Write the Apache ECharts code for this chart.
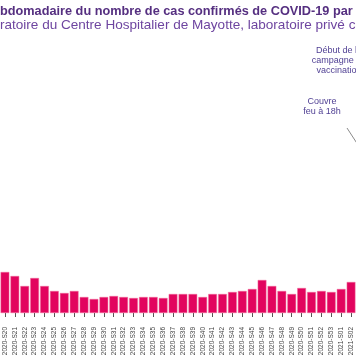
<!DOCTYPE html>
<html><head><meta charset="utf-8">
<script src="https://cdn.jsdelivr.net/npm/echarts@6/dist/echarts.min.js"></script>
<style>html,body{margin:0;padding:0;background:#fff}#c{width:356px;height:364px}</style>
</head><body><div id="c"></div>
<script>
const weeks = ["2020-S20","2020-S21","2020-S22","2020-S23","2020-S24","2020-S25","2020-S26","2020-S27","2020-S28","2020-S29","2020-S30","2020-S31","2020-S32","2020-S33","2020-S34","2020-S35","2020-S36","2020-S37","2020-S38","2020-S39","2020-S40","2020-S41","2020-S42","2020-S43","2020-S44","2020-S45","2020-S46","2020-S47","2020-S48","2020-S49","2020-S50","2020-S51","2020-S52","2020-S53","2021-S01","2021-S02"];
const cases = [410,370,270,350,270,220,200,220,160,140,160,170,160,150,160,160,150,190,190,190,160,190,190,210,220,240,330,270,220,190,250,210,220,210,240,310];
const titleLine1 = "Évolution hebdomadaire du nombre de cas confirmés de COVID-19 par laboratoire";
const titleLine2 = "(laboratoire du Centre Hospitalier de Mayotte, laboratoire privé c";
const noteVaccin = "Début de la\ncampagne de\nvaccination";
const noteCouvreFeu = "Couvre\nfeu à 18h";

const FAM = "'Liberation Sans', Arial, sans-serif";
const cv = document.createElement('canvas').getContext('2d');
function w(t, f){ cv.font = f; return cv.measureText(t).width; }
const s1 = 100 * 353 / w("bdomadaire du nombre de cas confirmés de COVID-19 par", "bold 100px " + FAM);
const x1 = -w("Évolution he", "bold " + s1 + "px " + FAM);
const s2 = 100 * 349 / w("ratoire du Centre Hospitalier de Mayotte, laboratoire privé ", "100px " + FAM);
const x2 = -w("(labo", s2 + "px " + FAM);

const chart = echarts.init(document.getElementById('c'), null, {renderer:'canvas'});
chart.setOption({
  animation:false,
  backgroundColor:'#fff',
  grid:{left:-4.9, right:-8.5, top:40, bottom:51, containLabel:false},
  xAxis:{type:'category', data:weeks, offset:4,
    axisLine:{show:false},
    axisTick:{show:true, alignWithLabel:true, length:4, lineStyle:{color:'#555'}},
    axisLabel:{rotate:90, fontSize:6.5, color:'#444', margin:10, interval:0, fontFamily:FAM}},
  yAxis:{type:'value', min:0, max:2730, show:false, splitLine:{show:false}},
  series:[{type:'bar', data:cases, barCategoryGap:'12%',
    itemStyle:{color:'#E2045E', borderColor:'#F06A98', borderWidth:0.5}}],
  graphic:[
    {type:'text', x:x1, y:11, style:{text:titleLine1, font:'bold '+s1+'px '+FAM, fill:'#552F80', verticalAlign:'middle'}},
    {type:'text', x:x2, y:25, style:{text:titleLine2, font:s2+'px '+FAM, fill:'#6E45A0', verticalAlign:'middle'}},
    {type:'text', x:339, y:46, style:{text:noteVaccin, font:'9px '+FAM, fill:'#4F3F93', align:'center', verticalAlign:'top', lineHeight:10}},
    {type:'text', x:322, y:96.5, style:{text:noteCouvreFeu, font:'9px '+FAM, fill:'#4F3F93', align:'center', verticalAlign:'top', lineHeight:10}},
    {type:'line', shape:{x1:347, y1:128, x2:360, y2:148}, style:{stroke:'#8a8a8a', lineWidth:1}}
  ]
});
</script></body></html>
